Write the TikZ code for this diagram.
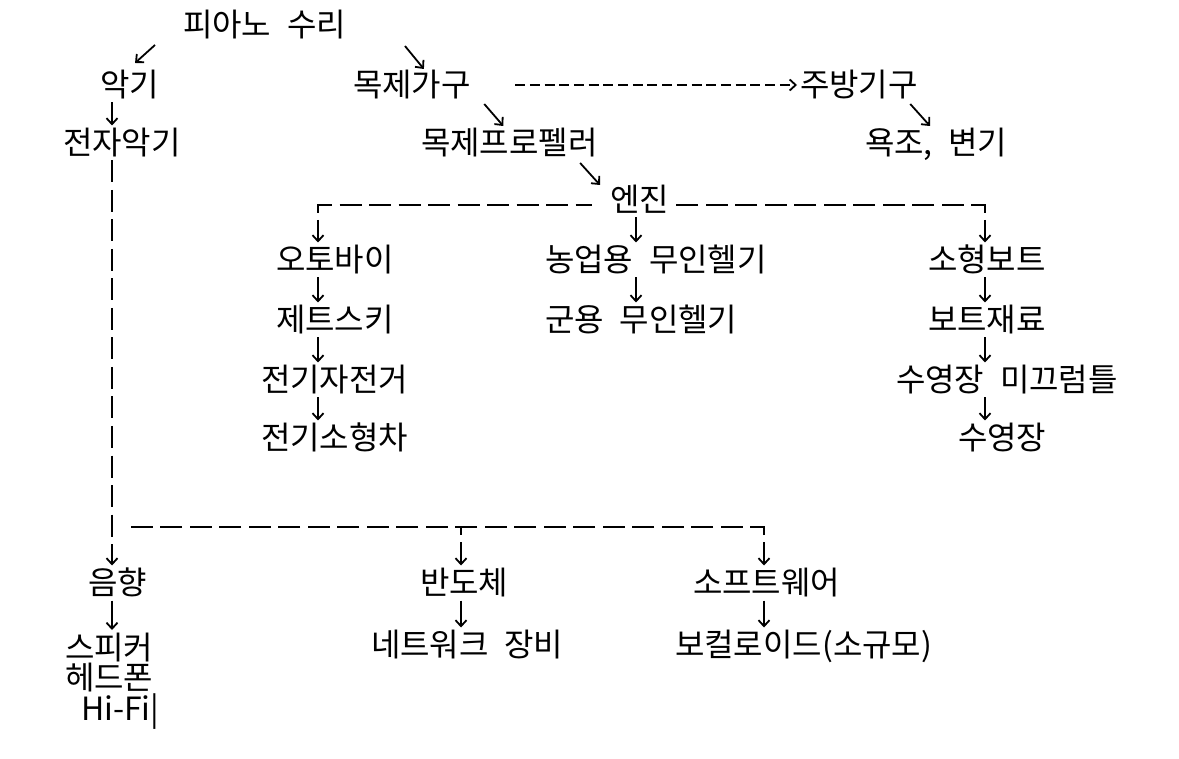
\documentclass[tikz,border=0pt]{standalone}
\usepackage{fontspec}
\setmainfont{Noto Sans CJK KR}[WordSpace=2.2]
\usetikzlibrary{arrows.meta}

\begin{document}
\begin{tikzpicture}[x=0.5pt, y=-0.5pt,
	item/.style={anchor=west, inner sep=0pt, outer sep=1.5pt, text height=13pt, text depth=1.5pt, font=\fontsize{16}{15.2}\selectfont},
	ln/.style={line width=0.9pt},
	arr/.style={ln, -{Straight Barb[length=3pt,width=5.5pt]}},
	ldash/.style={ln, dash pattern=on 11pt off 3.75pt},
	sdash/.style={ln, dash pattern=on 5pt off 2.35pt}]
	\useasboundingbox (0,0) rectangle (1179,759);
	\coordinate (ca) at (112,0);
	\coordinate (cm) at (318,0);
	\coordinate (cn) at (636,0);
	\coordinate (cb) at (985,0);
	\coordinate (cs) at (461,0);
	\coordinate (cw) at (764,0);

	\node[item] (piano) at (180,25) {피아노 수리};
	\node[item] (akgi) at (97,85) {악기};
	\node[item] (gagu) at (350,85) {목제가구};
	\node[item] (jubang) at (797,85) {주방기구};
	\node[item] (jeonja) at (60,143) {전자악기};
	\node[item] (propeller) at (418,143) {목제프로펠러};
	\node[item] (yokjo) at (862,143) {욕조, 변기};
	\node[item] (engine) at (607,200) {엔진};
	\node[item] (otobai) at (273,260) {오토바이};
	\node[item] (nongup) at (542,260) {농업용 무인헬기};
	\node[item] (boat) at (925,260) {소형보트};
	\node[item] (jetski) at (273,320) {제트스키};
	\node[item] (gunyong) at (542,320) {군용 무인헬기};
	\node[item] (boatjae) at (925,320) {보트재료};
	\node[item] (jajeongeo) at (258,380) {전기자전거};
	\node[item] (mikkeul) at (893,380) {수영장 미끄럼틀};
	\node[item] (sohyung) at (258,438) {전기소형차};
	\node[item] (pool) at (955,438) {수영장};
	\node[item] (eumhyang) at (85,583) {음향};
	\node[item] (bandoche) at (417,583) {반도체};
	\node[item] (software) at (690,583) {소프트웨어};
	\node[item] (network) at (368,645) {네트워크 장비};
	\node[item] (vocaloid) at (672,645) {보컬로이드(소규모)};
	\node[anchor=north west, inner sep=0pt, outer sep=1.5pt, align=left, font=\fontsize{16}{15.2}\selectfont] (speaker) at (62,630) {스피커\\헤드폰\\\hspace*{8pt}Hi-Fi|};

	\draw[arr] ([shift={(-25,2.5)}]piano.south west) -- ([shift={(5.6,-4.5)}]akgi.north);
	\draw[arr] ([shift={(56,3.5)}]piano.south east) -- ([shift={(12,1.5)}]gagu.north);
	\draw[sdash,arr] ([xshift=20.7pt]gagu.east) -- (jubang.west);
	\draw[arr] ([shift={(10.5,1.5)}]gagu.south east) -- ([shift={(-6,0.5)}]propeller.north);
	\draw[arr] ([shift={(-10.5,1.5)}]jubang.south east) -- ([shift={(68,0.5)}]yokjo.north west);
	\draw[arr] ([shift={(-20.5,2.5)}]propeller.south east) -- ([shift={(-7,2.5)}]engine.north west);
	\draw[arr] (akgi.south -| ca) -- (jeonja.north -| ca);
	\draw[ldash,arr] (jeonja.south -| ca) -- (eumhyang.north -| ca);
	\draw[arr] (eumhyang.south -| ca) -- (speaker.north -| ca);

	\coordinate (eL) at ([shift={(-15,5)}]engine.west);
	\coordinate (eR) at ([shift={(1,5)}]engine.east);
	\coordinate (eLc) at (eL -| cm);
	\coordinate (eRc) at (eR -| cb);
	\draw[ldash] ([yshift=-4pt]eLc) -- (eLc) -- (eL);
	\draw[ldash] ([yshift=-4pt]eRc) -- (eRc) -- (eR);
	\draw[arr] ([yshift=-7.5pt]eLc) -- (otobai.north -| cm);
	\draw[arr] (engine.south -| cn) -- (nongup.north -| cn);
	\draw[arr] ([yshift=-7.5pt]eRc) -- (boat.north -| cb);

	\draw[arr] (otobai.south -| cm) -- (jetski.north -| cm);
	\draw[arr] (jetski.south -| cm) -- (jajeongeo.north -| cm);
	\draw[arr] (jajeongeo.south -| cm) -- (sohyung.north -| cm);
	\draw[arr] (nongup.south -| cn) -- (gunyong.north -| cn);
	\draw[arr] (boat.south -| cb) -- (boatjae.north -| cb);
	\draw[arr] (boatjae.south -| cb) -- (mikkeul.north -| cb);
	\draw[arr] (mikkeul.south -| cb) -- (pool.north -| cb);

	\coordinate (bL) at (128,527);
	\coordinate (bS) at (bL -| cs);
	\coordinate (bW) at (bL -| cw);
	\draw[ldash] ([yshift=-4pt]bW) -- (bW) -- (bL);
	\draw[ln] (bS) -- ([yshift=-4pt]bS);
	\draw[arr] ([yshift=-7.5pt]bS) -- (bandoche.north -| cs);
	\draw[arr] ([yshift=-7.5pt]bW) -- (software.north -| cw);
	\draw[arr] (bandoche.south -| cs) -- (network.north -| cs);
	\draw[arr] (software.south -| cw) -- (vocaloid.north -| cw);
\end{tikzpicture}
\end{document}
